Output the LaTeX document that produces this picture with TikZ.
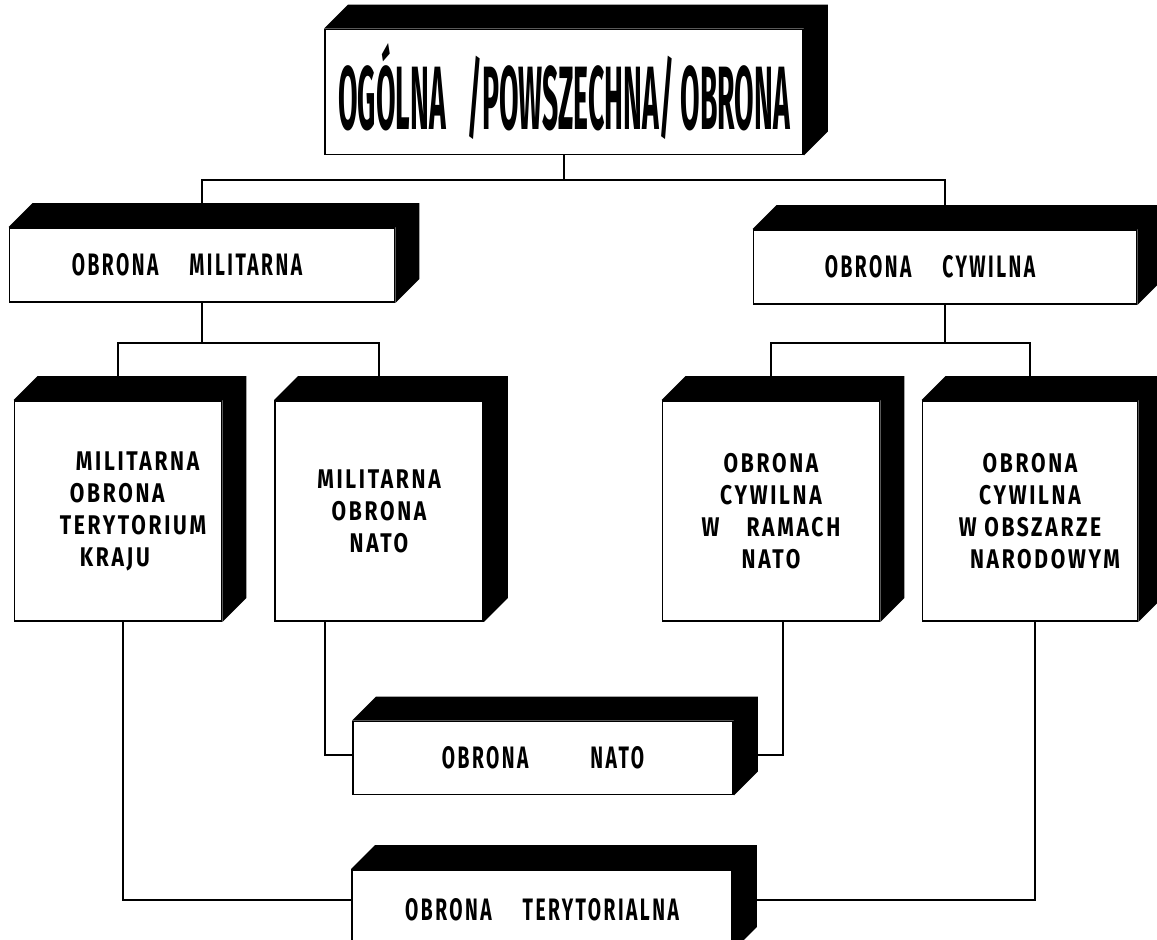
\documentclass[tikz,border=0pt]{standalone}
\usepackage{fontspec}
\setmainfont{Fira Sans}
\newfontfamily\tytul{Fira Sans}[FakeStretch=0.315]
\newfontfamily\napis{Fira Sans}[FakeStretch=0.62,LetterSpace=8]
\newfontfamily\napisb{Fira Sans}[FakeStretch=0.78,LetterSpace=10]
\usetikzlibrary{calc,backgrounds}

\tikzset{
  blok/.style={draw,fill=white,line width=1.8pt,inner sep=0pt,
    font=\napis\bfseries\fontsize{31}{32}\selectfont},
  wysoki/.style={blok,minimum height=220pt,align=center,
    font=\napisb\bfseries\fontsize{27}{32}\selectfont},
  linia/.style={line width=2.2pt},
}
% czarna bryla nad i z prawej strony bloku
\newcommand{\bryla}[1]{%
  \fill (#1.north west) -- ++(24,-24) -- ($(#1.north east)+(24,-24)$)
    -- ($(#1.south east)+(24,-24)$) -- (#1.south east) -- (#1.north east) -- cycle;}

\begin{document}
\begin{tikzpicture}[x=1pt,y=-1pt]
  \useasboundingbox (0,0) rectangle (1157,940);
  \clip (0,0) rectangle (1157,940);
  % poziom 1
  \node[blok,minimum width=478pt,minimum height=125pt,
    font=\tytul\bfseries\fontsize{90}{90}\selectfont] (glowna) at (564,92) {OGÓLNA \,/POWSZECHNA/ OBRONA};
  % poziom 2
  \node[blok,minimum width=385pt,minimum height=74pt] (militarna) at (202,265) {OBRONA\quad MILITARNA\hspace*{30pt}};
  \node[blok,minimum width=383pt,minimum height=74pt] (cywilna) at (945,267) {OBRONA\quad CYWILNA\hspace*{30pt}};
  % poziom 3
  \node[wysoki,minimum width=207pt,align=left] (mokt) at (118,511)
    {\hspace*{46pt}MILITARNA\\\hspace*{40pt}OBRONA\\\hspace*{30pt}TERYTORIUM\\\hspace*{50pt}KRAJU};
  \node[wysoki,minimum width=208pt] (monato) at (379,511) {MILITARNA\\OBRONA\\NATO};
  \node[wysoki,minimum width=217pt] (ocnato) at (771,511) {OBRONA\\CYWILNA\\W\quad RAMACH\\NATO};
  \node[wysoki,minimum width=215pt] (ocnar) at (1030,511) {OBRONA\\CYWILNA\\W OBSZARZE\\\hspace*{30pt}NARODOWYM};
  % poziom 4
  \node[blok,minimum width=380pt,minimum height=73pt] (nato) at (543,758) {OBRONA\qquad NATO};
  \node[blok,minimum width=380pt,minimum height=80pt] (teryt) at (542,910) {OBRONA\quad TERYTORIALNA};

  \foreach \b in {glowna,militarna,cywilna,mokt,monato,ocnato,ocnar,nato,teryt}
    \bryla{\b};

  % polaczenia
  \begin{scope}[on background layer]
  \begin{scope}[linia]
    \coordinate (s1) at (564,180);
    \coordinate (s2) at (202,343);
    \coordinate (s3) at (945,343);
    \coordinate (n1) at (325,755);
    \coordinate (n2) at (783,755);
    \coordinate (t1) at (123,900);
    \coordinate (t2) at (1035,900);
    \draw (glowna.south) -- (s1);
    \draw (militarna.north) |- (s1) -| (cywilna.north);
    \draw (militarna.south) -- (s2);
    \draw (mokt.north) |- (s2) -| (monato.north);
    \draw (cywilna.south) -- (s3);
    \draw (ocnato.north) |- (s3) -| (ocnar.north);
    \draw (monato.south -| n1) -- (n1) -- (nato.west |- n1);
    \draw (ocnato.south -| n2) -- (n2) -- (nato.east |- n2);
    \draw (mokt.south -| t1) -- (t1) -- (teryt.west |- t1);
    \draw (ocnar.south -| t2) -- (t2) -- (teryt.east |- t2);
  \end{scope}
  \end{scope}
\end{tikzpicture}
\end{document}
